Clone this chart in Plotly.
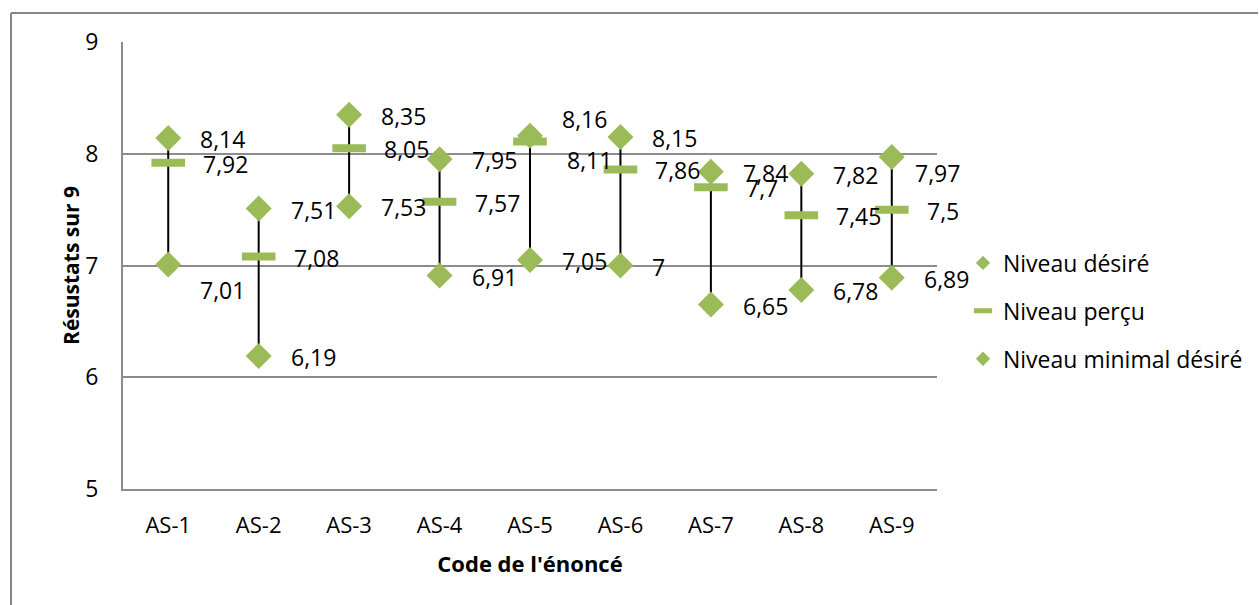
import plotly.graph_objects as go

# Statement codes and the three score levels (out of 9)
codes = ["AS-1", "AS-2", "AS-3", "AS-4", "AS-5", "AS-6", "AS-7", "AS-8", "AS-9"]
niveau_desire = [8.14, 7.51, 8.35, 7.95, 8.16, 8.15, 7.84, 7.82, 7.97]
niveau_percu = [7.92, 7.08, 8.05, 7.57, 8.11, 7.86, 7.70, 7.45, 7.50]
niveau_minimal = [7.01, 6.19, 7.53, 6.91, 7.05, 7.00, 6.65, 6.78, 6.89]

GREEN = "#9BBB59"
GRID = "#8c8c8c"
FONT = "Open Sans"

# Manual nudges (x px, y px) for data labels that were moved to avoid overlap
label_nudges = {
    ("min", 0): (30, -26),
    ("max", 4): (30, 17),
    ("per", 4): (35, -19),
    ("max", 8): (21, -16),
}


def fmt(v):
    return f"{v:g}".replace(".", ",")


fig = go.Figure()

# High-low lines between the lowest and highest value of each statement
hl_x, hl_y = [], []
for c, a, b, m in zip(codes, niveau_desire, niveau_percu, niveau_minimal):
    vals = (a, b, m)
    hl_x += [c, c, None]
    hl_y += [min(vals), max(vals), None]
fig.add_trace(go.Scatter(
    x=hl_x, y=hl_y, mode="lines",
    line=dict(color="black", width=2),
    showlegend=False, hoverinfo="skip",
))

series = [
    ("Niveau désiré", niveau_desire, "diamond", 20, 0, 11, 0),
    ("Niveau perçu", niveau_percu, "line-ew", 24, 8, 13, 5),
    ("Niveau minimal désiré", niveau_minimal, "diamond", 20, 0, 11, 0),
]
for i, (name, vals, sym, size, lw, leg_size, leg_lw) in enumerate(series):
    grp = f"g{i}"
    fig.add_trace(go.Scatter(
        x=codes, y=vals, mode="markers", name=name,
        legendgroup=grp, showlegend=False,
        marker=dict(symbol=sym, size=size, color=GREEN,
                    line=dict(color=GREEN, width=lw)),
    ))
    # legend swatch with a smaller marker
    fig.add_trace(go.Scatter(
        x=[None], y=[None], mode="markers", name=name,
        legendgroup=grp, showlegend=True, hoverinfo="skip",
        marker=dict(symbol=sym, size=leg_size, color=GREEN,
                    line=dict(color=GREEN, width=leg_lw)),
    ))

# Data labels to the right of each mark
for key, vals, dx in (("max", niveau_desire, 30),
                      ("per", niveau_percu, 33),
                      ("min", niveau_minimal, 30)):
    for i, (c, v) in enumerate(zip(codes, vals)):
        xs, ys = label_nudges.get((key, i), (dx, -1))
        fig.add_annotation(
            x=c, y=v, text=fmt(v), showarrow=False,
            xanchor="left", yanchor="middle", xshift=xs, yshift=ys,
            font=dict(family=FONT, size=23, color="black"),
        )

# Outer chart frame (left and top edges fall inside the page)
PW, PH = 814, 447
fx0, fx1 = (11 - 123) / PW, (1258 - 123) / PW
fy0, fy1 = (489 - 610) / PH, 1 + (42 - 13) / PH
frame = dict(color="#878787", width=2)
fig.add_shape(type="line", xref="paper", yref="paper",
              x0=fx0, x1=fx0, y0=fy0, y1=fy1, line=frame)
fig.add_shape(type="line", xref="paper", yref="paper",
              x0=fx0, x1=fx1, y0=fy1, y1=fy1, line=frame)

fig.update_layout(
    width=1259, height=605,
    margin=dict(l=123, r=322, t=42, b=116, autoexpand=False),
    paper_bgcolor="white", plot_bgcolor="white",
    font=dict(family=FONT, size=23, color="black"),
    showlegend=True,
    legend=dict(
        x=(963 - 123) / PW, xanchor="left",
        y=(489 - 311) / PH, yanchor="middle",
        font=dict(family=FONT, size=23, color="black"),
        tracegroupgap=15, itemsizing="trace",
        bgcolor="rgba(0,0,0,0)",
    ),
    xaxis=dict(
        type="category", range=[-0.5, 8.5],
        showgrid=False, showline=True, linecolor=GRID, linewidth=2,
        ticks="", ticklabelstandoff=16,
        tickfont=dict(family=FONT, size=22, color="black"),
        title=dict(text="<b>Code de l'énoncé</b>", standoff=18,
                   font=dict(family=FONT, size=22, color="black")),
    ),
    yaxis=dict(
        range=[5, 9], dtick=1, tick0=5,
        showgrid=True, gridcolor=GRID, gridwidth=2,
        showline=True, linecolor=GRID, linewidth=2,
        zeroline=False, ticks="", ticklabelstandoff=18,
        tickfont=dict(family=FONT, size=23, color="black"),
        title=dict(text="<b>Résustats sur 9</b>", standoff=0,
                   font=dict(family=FONT, size=21, color="black")),
    ),
)

fig.write_html("out.html")
